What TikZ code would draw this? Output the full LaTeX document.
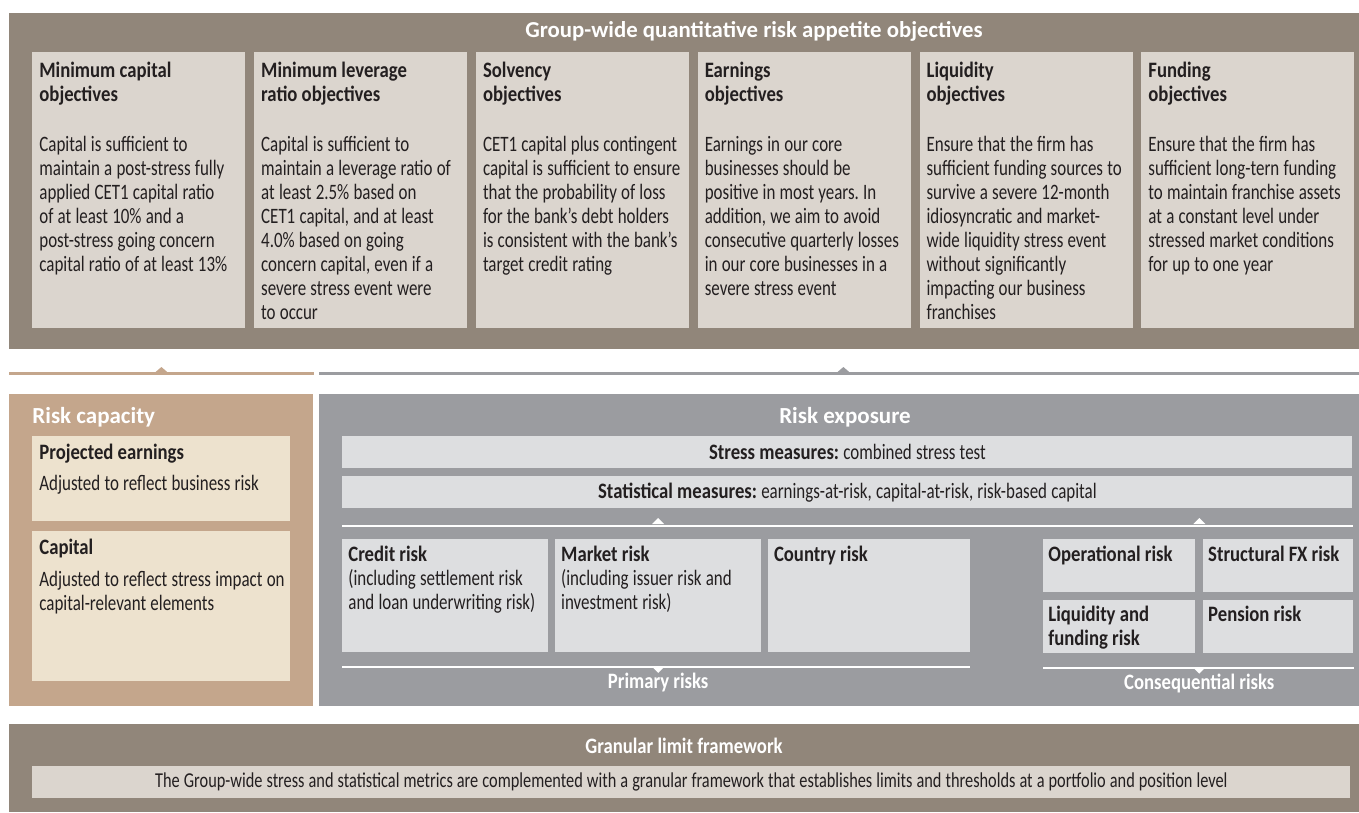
\documentclass[tikz,border=0pt]{standalone}
\usepackage{fontspec}
\setmainfont{Carlito}[FakeStretch=0.77, WordSpace=1.1]
\newfontfamily\cndbold{Carlito}[FakeStretch=0.85, WordSpace=1]
\newfontfamily\widebold{Carlito}
\usetikzlibrary{positioning}
\frenchspacing

\definecolor{bandbrown}{HTML}{91867A}
\definecolor{cardbeige}{HTML}{DBD5CE}
\definecolor{captan}{HTML}{C4A68C}
\definecolor{capcream}{HTML}{EDE2CE}
\definecolor{expgray}{HTML}{9B9CA0}
\definecolor{risklight}{HTML}{DDDEE0}
\definecolor{ink}{HTML}{231F20}

\newcommand\objhead[1]{{\cndbold\bfseries #1}}

\begin{document}
\begin{tikzpicture}[
  x=0.5pt, y=-0.5pt,
  every node/.style={inner sep=0pt, text=ink},
  panel/.style={anchor=north west, fill=#1},
  objcard/.style={fill=cardbeige, minimum width=106.5pt, minimum height=138pt},
  objtext/.style={text width=130pt, align=flush left, font=\fontsize{11}{12}\selectfont},
  cardtext/.style={text width=140pt, align=flush left, font=\fontsize{11}{12}\selectfont},
  riskcard/.style={fill=risklight, minimum height=56.5pt},
  smallcard/.style={fill=risklight, minimum height=26.5pt},
  measbar/.style={fill=#1, minimum height=16pt, font=\fontsize{11}{12}\selectfont},
  bigtitle/.style={text=white, font=\widebold\bfseries\fontsize{#1}{14}\selectfont},
  subtitle/.style={text=white, font=\cndbold\bfseries\fontsize{11}{12}\selectfont},
  divider/.style={line width=1.5pt, draw=#1},
  whiteline/.style={line width=1.1pt, draw=white},
  ]
  \useasboundingbox (0,0) rectangle (1359,813);

  \node[panel=bandbrown, minimum width=675pt, minimum height=168pt] (objband) at (9,13) {};
  \node[bigtitle=11.4, anchor=base] (objtitle) at (754,38) {Group-wide quantitative risk appetite objectives};

  \node[objcard, anchor=north west] (obj1) at (32,52) {};
  \node[objcard, right=4pt of obj1] (obj2) {};
  \node[objcard, right=4pt of obj2] (obj3) {};
  \node[objcard, right=4pt of obj3] (obj4) {};
  \node[objcard, right=4pt of obj4] (obj5) {};
  \node[objcard, right=4pt of obj5] (obj6) {};

  \node[objtext, below right=4pt and 3.5pt of obj1.north west] (objtxt1) {\strut\objhead{Minimum capital\\objectives}\\[13pt]
    Capital is sufficient to\\maintain a post-stress fully\\applied CET1 capital ratio\\of at least 10\% and a\\post-stress going concern\\capital ratio of at least 13\%};
  \node[objtext, below right=4pt and 3.5pt of obj2.north west] (objtxt2) {\strut\objhead{Minimum leverage\\ratio objectives}\\[13pt]
    Capital is sufficient to\\maintain a leverage ratio of\\at least 2.5\% based on\\CET1 capital, and at least\\4.0\% based on going\\concern capital, even if a\\severe stress event were\\to occur};
  \node[objtext, below right=4pt and 3.5pt of obj3.north west] (objtxt3) {\strut\objhead{Solvency\\objectives}\\[13pt]
    CET1 capital plus contingent\\capital is sufficient to ensure\\that the probability of loss\\for the bank’s debt holders\\is consistent with the bank’s\\target credit rating};
  \node[objtext, below right=4pt and 3.5pt of obj4.north west] (objtxt4) {\strut\objhead{Earnings\\objectives}\\[13pt]
    Earnings in our core\\businesses should be\\positive in most years. In\\addition, we aim to avoid\\consecutive quarterly losses\\in our core businesses in a\\severe stress event};
  \node[objtext, below right=4pt and 3.5pt of obj5.north west] (objtxt5) {\strut\objhead{Liquidity\\objectives}\\[13pt]
    Ensure that the firm has\\sufficient funding sources to\\survive a severe 12-month\\idiosyncratic and market-\\wide liquidity stress event\\without significantly\\impacting our business\\franchises};
  \node[objtext, below right=4pt and 3.5pt of obj6.north west] (objtxt6) {\strut\objhead{Funding\\objectives}\\[13pt]
    Ensure that the firm has\\sufficient long-tern funding\\to maintain franchise assets\\at a constant level under\\stressed market conditions\\for up to one year};

  \node[panel=captan, minimum width=152pt, minimum height=156pt] (cap) at (9,394) {};
  \node[panel=expgray, minimum width=520pt, minimum height=156pt] (exp) at (319,394) {};

  \draw[divider=captan] ([shift={(0,-21)}]cap.north west) -- ([shift={(0,-21)}]cap.north east);
  \fill[captan] ([shift={(-7,-21)}]cap.north) -- ([shift={(0,-27)}]cap.north) -- ([shift={(7,-21)}]cap.north) -- cycle;
  \draw[divider=expgray] ([shift={(0,-21)}]exp.north west) -- ([shift={(0,-21)}]exp.north east);
  \fill[expgray] ([shift={(-3,-21)}]exp.north) -- ([shift={(4,-27)}]exp.north) -- ([shift={(11,-21)}]exp.north) -- cycle;

  \node[bigtitle=11.5, anchor=base west] (captitle) at (32,423) {Risk capacity};
  \node[panel=capcream, minimum width=129pt, minimum height=42.5pt] (proj) at (32,436) {};
  \node[cardtext, below right=3.1pt and 3.5pt of proj.north west] (projtxt) {\strut\objhead{Projected earnings}\\[3.5pt]
    Adjusted to reflect business risk};
  \node[panel=capcream, minimum width=129pt, minimum height=75pt] (capital) at (32,531) {};
  \node[cardtext, below right=3.1pt and 3.5pt of capital.north west] (capitaltxt) {\strut\objhead{Capital}\\[4pt]
    Adjusted to reflect stress impact on\\capital-relevant elements};

  \node[bigtitle=11.5, anchor=base] (exptitle) at (845,423) {Risk exposure};
  \node[measbar=risklight, anchor=north west, minimum width=505pt] (stress) at (342,436) {\objhead{Stress measures:} combined stress test};
  \node[measbar=risklight, minimum width=505pt, below=3.5pt of stress] (stat) {\objhead{Statistical measures:} earnings-at-risk, capital-at-risk, risk-based capital};

  \node[riskcard, panel=risklight, minimum width=103pt] (credit) at (342,539) {};
  \node[riskcard, minimum width=103pt, right=3pt of credit] (market) {};
  \node[riskcard, minimum width=101pt, right=3pt of market] (country) {};
  \node[smallcard, panel=risklight, minimum width=76pt] (oprisk) at (1043,539) {};
  \node[smallcard, minimum width=75pt, right=3.5pt of oprisk] (fxrisk) {};
  \node[smallcard, minimum width=76pt, below=3.5pt of oprisk] (liqrisk) {};
  \node[smallcard, minimum width=75pt, below=3.5pt of fxrisk] (pension) {};

  \node[cardtext, below right=2.6pt and 3pt of credit.north west] (credittxt) {\strut\objhead{Credit risk}\\(including settlement risk\\and loan underwriting risk)};
  \node[cardtext, below right=2.6pt and 3pt of market.north west] (markettxt) {\strut\objhead{Market risk}\\(including issuer risk and\\investment risk)};
  \node[cardtext, below right=2.6pt and 3pt of country.north west] (countrytxt) {\strut\objhead{Country risk}};
  \node[cardtext, below right=2.6pt and 2.5pt of oprisk.north west] (oprisktxt) {\strut\objhead{Operational risk}};
  \node[cardtext, below right=2.6pt and 2.5pt of fxrisk.north west] (fxrisktxt) {\strut\objhead{Structural FX risk}};
  \node[cardtext, below right=2.1pt and 2.5pt of liqrisk.north west] (liqrisktxt) {\strut\objhead{Liquidity and\\funding risk}};
  \node[cardtext, below right=2.1pt and 2.5pt of pension.north west] (pensiontxt) {\strut\objhead{Pension risk}};

  \coordinate (conspk) at ([xshift=1.75pt]oprisk.north east);
  \coordinate (conspkb) at ([xshift=1.75pt]liqrisk.south east);

  \draw[whiteline] ([shift={(0,17)}]stat.south west) -- ([shift={(0,17)}]stat.south east);
  \fill[white] ([shift={(-6,-15)}]market.north) -- ([shift={(0,-21)}]market.north) -- ([shift={(6,-15)}]market.north) -- cycle;
  \fill[white] ([shift={(-6,-15)}]conspk) -- ([shift={(0,-21)}]conspk) -- ([shift={(6,-15)}]conspk) -- cycle;

  \draw[whiteline] ([shift={(0,14)}]credit.south west) -- ([shift={(0,14)}]country.south east);
  \fill[white] ([shift={(-6,14)}]market.south) -- ([shift={(0,20)}]market.south) -- ([shift={(6,14)}]market.south) -- cycle;
  \draw[whiteline] ([shift={(0,14)}]liqrisk.south west) -- ([shift={(0,14)}]pension.south east);
  \fill[white] ([shift={(-6,14)}]conspkb) -- ([shift={(0,20)}]conspkb) -- ([shift={(6,14)}]conspkb) -- cycle;

  \node[subtitle, anchor=base] (primary) at ([shift={(0,36)}]market.south) {Primary risks};
  \node[subtitle, anchor=base] (consequential) at ([shift={(0,36)}]conspkb) {Consequential risks};

  \node[panel=bandbrown, minimum width=675pt, minimum height=44pt] (gran) at (9,724) {};
  \node[subtitle, anchor=base] (grantitle) at (684,753) {Granular limit framework};
  \node[measbar=cardbeige, anchor=north west, minimum width=659pt, font=\fontsize{10.6}{12}\selectfont] (grandesc) at (32,766) {The Group-wide stress and statistical metrics are complemented with a granular framework that establishes limits and thresholds at a portfolio and position level};
\end{tikzpicture}
\end{document}
